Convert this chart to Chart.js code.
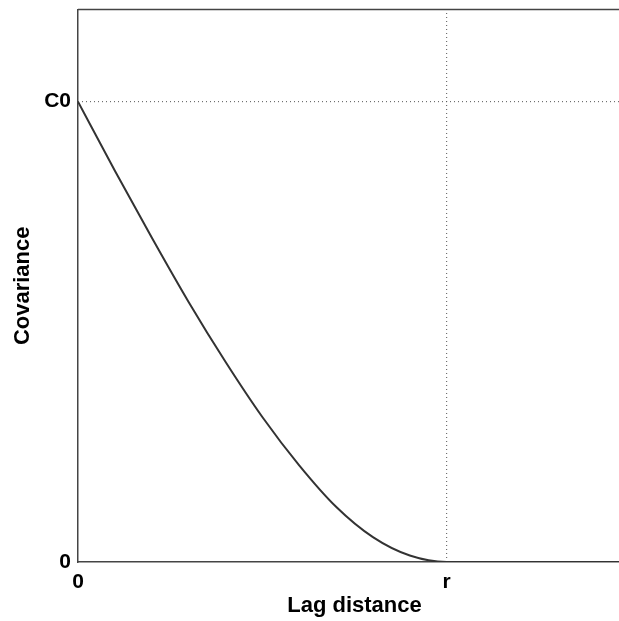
<!DOCTYPE html>
<html>
<head>
<meta charset="utf-8">
<script src="https://cdn.jsdelivr.net/npm/chart.js@4.4.1/dist/chart.umd.min.js"></script>
<style>
    html, body { margin: 0; padding: 0; overflow: hidden; background: #fff; }
    #wrap { width: 640px; height: 623px; margin-top: -2px; }
</style>
</head>
<body>
<div id="wrap"><canvas id="myChart"></canvas></div>
<script>
// lag distance in units of the range r, covariance in units of C0
const lagValues = [0, 0.1, 0.2, 0.3, 0.4, 0.5, 0.6, 0.7, 0.8, 0.9, 1.0, 1.5];
const covValues = [1.0, 0.85, 0.705, 0.565, 0.435, 0.315, 0.21, 0.12, 0.054, 0.014, 0, 0];

const xTickValues = [0, 1];
const xTickLabels = ['0', 'r'];
const yTickValues = [0, 1];
const yTickLabels = ['0', 'C0'];

const xMax = 1.5;
const yMax = 1.2;

const sillLine = [{ x: 0, y: 1 }, { x: xMax, y: 1 }];
const rangeLine = [{ x: 1, y: 0 }, { x: 1, y: yMax }];

const tickFont = { family: 'Liberation Sans', size: 21, weight: 'bold' };
const titleFont = { family: 'Liberation Sans', size: 22, weight: 'bold' };

// top frame line of the plot box
const topBorder = {
    id: 'topBorder',
    afterDraw(chart) {
        const { ctx, chartArea } = chart;
        ctx.save();
        ctx.strokeStyle = '#444';
        ctx.lineWidth = 1.5;
        ctx.beginPath();
        ctx.moveTo(chartArea.left, chartArea.top);
        ctx.lineTo(chartArea.right, chartArea.top);
        ctx.stroke();
        ctx.restore();
    }
};

function createChart() {
    const ctx = document.getElementById('myChart').getContext('2d');

    new Chart(ctx, {
        type: 'scatter',
        data: {
            datasets: [
                {
                    label: 'Covariance',
                    data: lagValues.map((v, i) => ({ x: v, y: covValues[i] })),
                    showLine: true,
                    borderColor: '#333',
                    borderWidth: 2,
                    pointRadius: 0,
                    cubicInterpolationMode: 'monotone'
                },
                {
                    label: 'C0',
                    data: sillLine,
                    showLine: true,
                    borderColor: '#555',
                    borderWidth: 1,
                    borderDash: [1, 3],
                    pointRadius: 0
                },
                {
                    label: 'r',
                    data: rangeLine,
                    showLine: true,
                    borderColor: '#555',
                    borderWidth: 1,
                    borderDash: [1, 3],
                    pointRadius: 0
                }
            ]
        },
        options: {
            responsive: true,
            maintainAspectRatio: false,
            animation: false,
            layout: { padding: { top: 0, right: 9, left: 0, bottom: 0 } },
            plugins: {
                legend: { display: false },
                tooltip: { enabled: false }
            },
            scales: {
                x: {
                    type: 'linear',
                    min: 0,
                    max: xMax,
                    afterBuildTicks: axis => { axis.ticks = xTickValues.map(v => ({ value: v })); },
                    afterFit: axis => { axis.height = 59; },
                    ticks: {
                        font: tickFont,
                        color: '#000',
                        padding: 0,
                        maxRotation: 0,
                        callback: v => xTickLabels[xTickValues.indexOf(v)]
                    },
                    grid: { display: false },
                    border: { display: true, color: '#444', width: 1.5 },
                    title: {
                        display: true,
                        text: 'Lag distance',
                        font: titleFont,
                        color: '#000',
                        padding: { top: 0, bottom: 2 }
                    }
                },
                y: {
                    type: 'linear',
                    min: 0,
                    max: yMax,
                    afterBuildTicks: axis => { axis.ticks = yTickValues.map(v => ({ value: v })); },
                    afterFit: axis => { axis.width = 78; },
                    ticks: {
                        font: tickFont,
                        color: '#000',
                        padding: -1,
                        callback: v => yTickLabels[yTickValues.indexOf(v)]
                    },
                    grid: { display: false },
                    border: { display: true, color: '#444', width: 1.5 },
                    title: {
                        display: true,
                        text: 'Covariance',
                        font: titleFont,
                        color: '#000',
                        padding: { top: 10, bottom: 0 }
                    }
                }
            }
        },
        plugins: [topBorder]
    });
}

document.addEventListener('DOMContentLoaded', createChart);
</script>
</body>
</html>
